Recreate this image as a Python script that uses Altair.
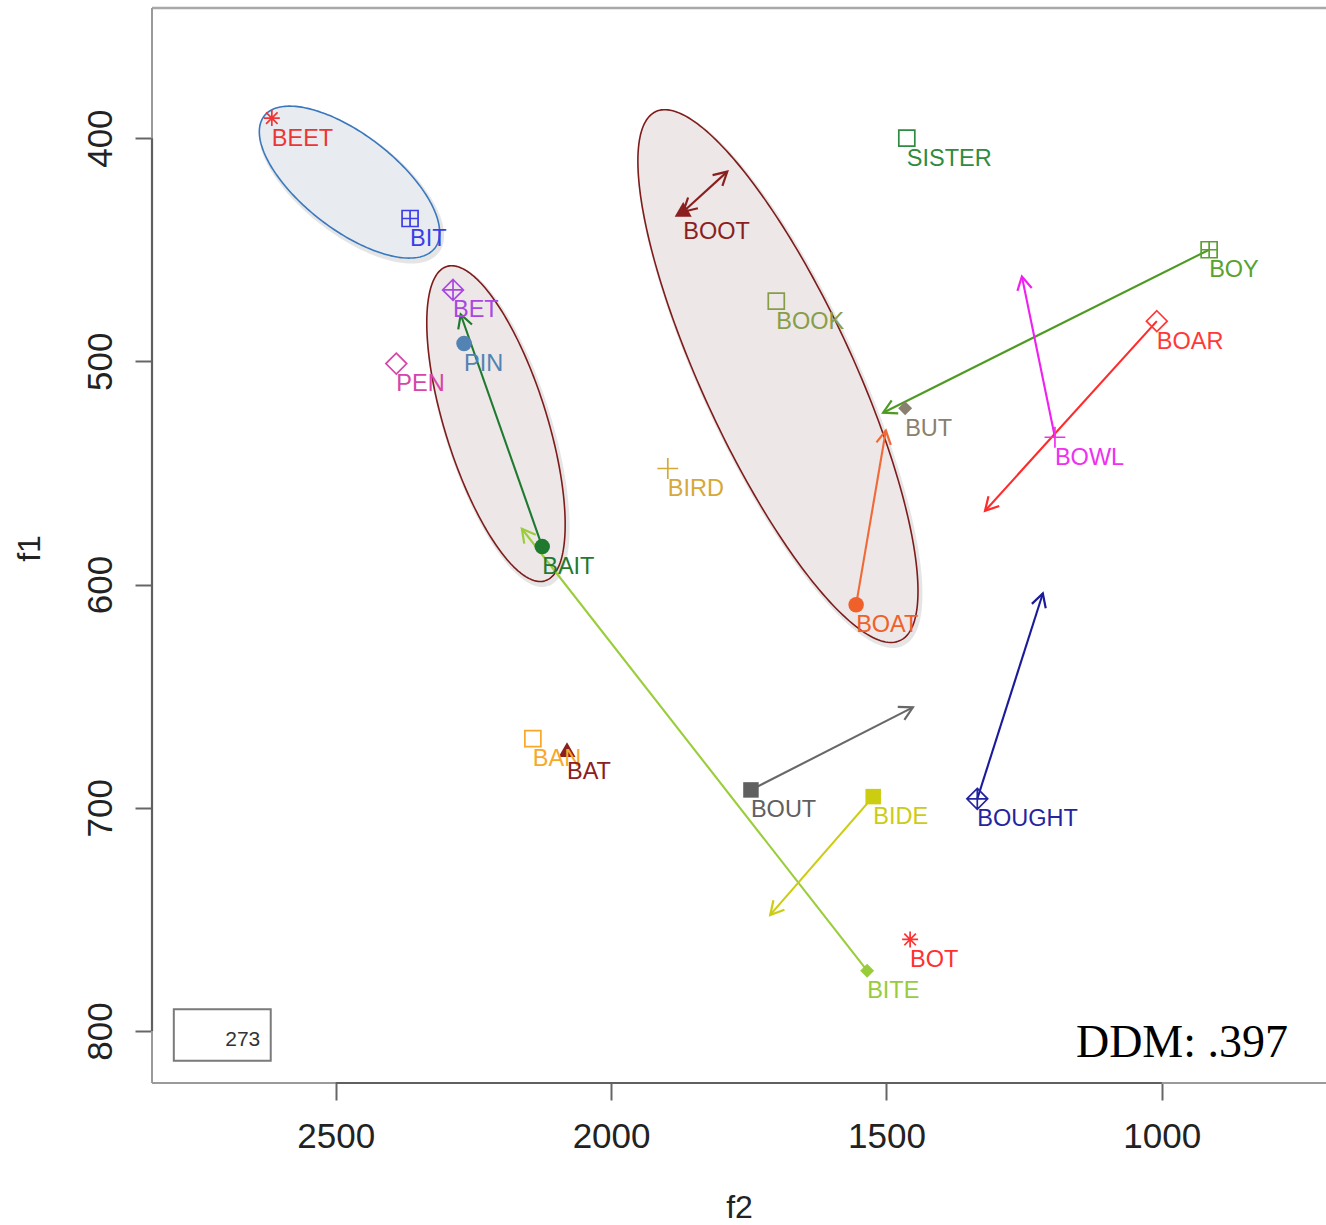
import math
import numpy as np
import pandas as pd
import altair as alt

# ---- vowel means (Hz) ----
words = ["BEET", "BIT", "BET", "PIN", "PEN", "BAIT", "BIRD", "BOAT", "BOOT", "BOOK",
         "SISTER", "BOY", "BOAR", "BUT", "BOWL", "BAN", "BAT", "BOUT", "BIDE",
         "BOUGHT", "BOT", "BITE"]
f2_vals = [2616, 2365, 2287, 2267, 2390, 2125, 1897, 1555, 1869, 1700,
           1463, 914, 1009, 1466, 1194, 2142, 2080, 1746, 1524,
           1335, 1457, 1535]
f1_vals = [391, 436, 468, 492, 501, 583, 548, 609, 433, 473,
           400, 450, 482, 521, 534, 669, 675, 692, 695,
           696, 759, 773]
symbols = ["asterisk", "square_plus", "diamond_plus", "dot", "diamond", "dot", "plus", "dot",
           "triangle", "square", "square", "square_plus", "diamond", "small_diamond", "plus",
           "square", "triangle", "solid_square", "solid_square", "diamond_plus", "asterisk",
           "small_diamond"]
colors = ["#EE3535", "#3C3CE8", "#A848E0", "#5283B3", "#D645A8", "#1F7A30", "#D6A838",
          "#F0602A", "#8B1E1E", "#879E48", "#2E8B40", "#5AA22E", "#FF3838", "#8A8070",
          "#F030F0", "#F8A828", "#8B2020", "#606060", "#CCCC10", "#2424A0", "#FF3030",
          "#98CC3A"]

# ---- glide trajectories: word -> end point ----
arrow_words = ["BOOT", "BOY", "BOWL", "BOAR", "BOAT", "BAIT", "BITE", "BOUT", "BIDE", "BOUGHT"]
arrow_f2_end = [1789, 1506, 1254, 1321, 1501, 2273, 2162, 1452, 1711, 1216]
arrow_f1_end = [415, 523, 462, 567, 531, 479, 575, 655, 748, 604]
arrow_colors = ["#8B1E1E", "#4E9A22", "#F020F0", "#FF2A2A", "#F06A38", "#1F7A30",
                "#9ACD3A", "#686868", "#CCCC10", "#1A1A9A"]

# ---- category ellipses: centre, major and minor semi-axis vectors (Hz) ----
ell_center_f2 = [2475, 2209, 1697]
ell_center_f1 = [419.7, 527.9, 506.6]
ell_major = [(-154.9, 29.6), (-89.3, 70.4), (-221.7, 118.5)]
ell_minor = [(53.0, 16.8), (88.4, 6.8), (124.6, 14.2)]
ell_fill = ["#E8ECF1", "#EDE7E7", "#EDE7E7"]
ell_stroke = ["#3A78BE", "#7E1C1C", "#7E1C1C"]

token_count = "273"
ddm_label = "DDM: .397"

# ---- plot geometry ----
W, H = 1174, 1075
X_DOM = [701.8, 2833.6]
Y_DOM = [341.7, 823.3]
kx = W / (X_DOM[1] - X_DOM[0])
ky = H / (Y_DOM[1] - Y_DOM[0])

xs = alt.Scale(domain=X_DOM, reverse=True, nice=False, zero=False)
ys = alt.Scale(domain=Y_DOM, reverse=True, nice=False, zero=False)

SHAPES = {
    "asterisk": "M-1,0L1,0M0,-1L0,1M-0.72,-0.72L0.72,0.72M-0.72,0.72L0.72,-0.72",
    "square_plus": "M-1,-1L1,-1L1,1L-1,1ZM0,-1L0,1M-1,0L1,0",
    "diamond_plus": "M0,-1.3L1.3,0L0,1.3L-1.3,0ZM0,-1.3L0,1.3M-1.3,0L1.3,0",
    "diamond": "M0,-1.3L1.3,0L0,1.3L-1.3,0Z",
    "plus": "M-1.3,0L1.3,0M0,-1.3L0,1.3",
    "square": "M-1,-1L1,-1L1,1L-1,1Z",
    "dot": "circle",
    "triangle": "M0,-1.25L1.1,0.65L-1.1,0.65Z",
    "solid_square": "M-1,-1L1,-1L1,1L-1,1Z",
    "small_diamond": "M0,-0.9L0.9,0L0,0.9L-0.9,0Z",
}
FILLED = {"dot", "triangle", "solid_square", "small_diamond"}
HEAD = "M-1,-0.55L0,0L-1,0.55"

pts = pd.DataFrame({"word": words, "f2": f2_vals, "f1": f1_vals,
                    "sym": symbols, "color": colors})
pts["filled"] = pts["sym"].isin(FILLED)

lookup = pts.set_index("word")
arrows = pd.DataFrame({
    "word": arrow_words,
    "f2": [lookup.loc[w, "f2"] for w in arrow_words],
    "f1": [lookup.loc[w, "f1"] for w in arrow_words],
    "f2_end": arrow_f2_end,
    "f1_end": arrow_f1_end,
    "color": arrow_colors,
})


def screen_angle(a2, a1, b2, b1):
    dx = -(b2 - a2) * kx
    dy = (b1 - a1) * ky
    return math.degrees(math.atan2(dy, dx)) % 360


arrows["angle"] = [screen_angle(r.f2, r.f1, r.f2_end, r.f1_end) for r in arrows.itertuples()]
heads = arrows[["f2_end", "f1_end", "color", "angle"]].rename(columns={"f2_end": "hx", "f1_end": "hy"})
# BOOT trajectory is double-headed
boot = arrows[arrows.word == "BOOT"].iloc[0]
heads = pd.concat([heads, pd.DataFrame({
    "hx": [boot.f2], "hy": [boot.f1], "color": [boot.color],
    "angle": [screen_angle(boot.f2_end, boot.f1_end, boot.f2, boot.f1)]})], ignore_index=True)

# ---- ellipse outlines ----
t = np.linspace(0, 2 * np.pi, 241)
ell_layers = []
for i in range(3):
    (u2, u1), (v2, v1) = ell_major[i], ell_minor[i]
    df = pd.DataFrame({
        "i": np.arange(len(t)),
        "f2": ell_center_f2[i] + np.cos(t) * u2 + np.sin(t) * v2,
        "f1": ell_center_f1[i] + np.cos(t) * u1 + np.sin(t) * v1,
    })
    shadow = alt.Chart(df).mark_line(stroke="#000000", strokeOpacity=0.10, strokeWidth=5,
                                     xOffset=2, yOffset=3).encode(
        x=alt.X("f2:Q", scale=xs), y=alt.Y("f1:Q", scale=ys), order="i:Q")
    body = alt.Chart(df).mark_line(fill=ell_fill[i], stroke=ell_stroke[i], strokeWidth=1.6).encode(
        x=alt.X("f2:Q", scale=xs), y=alt.Y("f1:Q", scale=ys), order="i:Q")
    ell_layers += [shadow, body]

shape_scale = alt.Scale(domain=list(SHAPES.keys()), range=list(SHAPES.values()))

axis_x = alt.Axis(values=[2500, 2000, 1500, 1000], format="d", grid=False, domain=False,
                  labelFont="Liberation Sans", labelFontSize=35, labelColor="#222222",
                  tickSize=17, tickWidth=2, tickColor="#666666", labelPadding=19,
                  labelFlush=False, title="f2", titleFont="Liberation Sans", titleFontSize=32,
                  titleFontWeight="normal", titleColor="#222222", titleX=587, titleY=134,
                  titleBaseline="alphabetic", titleAlign="center")
axis_y = alt.Axis(values=[400, 500, 600, 700, 800], format="d", grid=False, domain=False,
                  labelFont="Liberation Sans", labelFontSize=35, labelColor="#222222",
                  labelAngle=270, labelAlign="center", labelBaseline="alphabetic",
                  tickSize=17, tickWidth=2, tickColor="#666666", labelPadding=24,
                  labelFlush=False, title="f1", titleFont="Liberation Sans", titleFontSize=32,
                  titleFontWeight="normal", titleColor="#222222", titleAngle=270,
                  titleX=-113, titleY=540, titleBaseline="alphabetic", titleAlign="center")

base_pts = alt.Chart(pts)

axes_layer = base_pts.mark_point(opacity=0).encode(
    x=alt.X("f2:Q", scale=xs, axis=axis_x),
    y=alt.Y("f1:Q", scale=ys, axis=axis_y),
)

# plot frame (light) and axis lines between the outer ticks (dark)
frame_top = alt.Chart(pts.head(1)).mark_rule(color="#A8A8A8", strokeWidth=2.5).encode(
    x=alt.value(0), x2=alt.value(W), y=alt.value(0))
frame_left = alt.Chart(pts.head(1)).mark_rule(color="#9A9A9A", strokeWidth=2).encode(
    x=alt.value(0), y=alt.value(0), y2=alt.value(H))
frame_bottom = alt.Chart(pts.head(1)).mark_rule(color="#9A9A9A", strokeWidth=2).encode(
    x=alt.value(0), x2=alt.value(W), y=alt.value(H))
axis_left = alt.Chart(pts.head(1)).mark_rule(color="#606060", strokeWidth=2.2).encode(
    x=alt.value(0), y=alt.datum(400, scale=ys), y2=alt.datum(800))
axis_bottom = alt.Chart(pts.head(1)).mark_rule(color="#606060", strokeWidth=2.2).encode(
    x=alt.datum(2500, scale=xs), x2=alt.datum(1000), y=alt.value(H))

arrow_lines = alt.Chart(arrows).mark_rule(strokeWidth=2.1).encode(
    x=alt.X("f2:Q", scale=xs), y=alt.Y("f1:Q", scale=ys),
    x2="f2_end:Q", y2="f1_end:Q",
    color=alt.Color("color:N", scale=None),
)
arrow_heads = alt.Chart(heads).mark_point(shape=HEAD, filled=False, size=700, strokeWidth=2.2,
                                          opacity=1).encode(
    x=alt.X("hx:Q", scale=xs), y=alt.Y("hy:Q", scale=ys),
    angle=alt.Angle("angle:Q", scale=None),
    color=alt.Color("color:N", scale=None),
)

open_marks = alt.Chart(pts[~pts.filled]).mark_point(filled=False, size=256, strokeWidth=1.7,
                                                    opacity=1).encode(
    x=alt.X("f2:Q", scale=xs), y=alt.Y("f1:Q", scale=ys),
    shape=alt.Shape("sym:N", scale=shape_scale, legend=None),
    color=alt.Color("color:N", scale=None),
)
solid_marks = alt.Chart(pts[pts.filled]).mark_point(filled=True, size=240, opacity=1).encode(
    x=alt.X("f2:Q", scale=xs), y=alt.Y("f1:Q", scale=ys),
    shape=alt.Shape("sym:N", scale=shape_scale, legend=None),
    color=alt.Color("color:N", scale=None),
)
labels = base_pts.mark_text(align="left", baseline="alphabetic", dy=27.5,
                            font="Liberation Sans", fontSize=23.5).encode(
    x=alt.X("f2:Q", scale=xs), y=alt.Y("f1:Q", scale=ys),
    text="word:N",
    color=alt.Color("color:N", scale=None),
)

# token-count box in the lower-left corner
box_df = pd.DataFrame({"a2": [2794], "b2": [2618], "a1": [790.3], "b1": [813.3],
                       "tx": [2637], "ty": [806.7], "label": [token_count]})
count_box = alt.Chart(box_df).mark_rect(fill="white", stroke="#7A7A7A", strokeWidth=2).encode(
    x=alt.X("a2:Q", scale=xs), x2="b2:Q", y=alt.Y("a1:Q", scale=ys), y2="b1:Q")
count_text = alt.Chart(box_df).mark_text(align="right", baseline="alphabetic",
                                         font="Liberation Sans", fontSize=21,
                                         color="#333333").encode(
    x=alt.X("tx:Q", scale=xs), y=alt.Y("ty:Q", scale=ys), text="label:N")

ddm_df = pd.DataFrame({"x": [770.7], "y": [811.5], "label": [ddm_label]})
ddm_text = alt.Chart(ddm_df).mark_text(align="right", baseline="alphabetic",
                                       font="Liberation Serif", fontSize=46,
                                       color="#000000").encode(
    x=alt.X("x:Q", scale=xs), y=alt.Y("y:Q", scale=ys), text="label:N")

chart = alt.layer(
    axes_layer, *ell_layers, frame_top, frame_left, frame_bottom, axis_left, axis_bottom,
    arrow_lines, arrow_heads, open_marks, solid_marks, labels, count_box, count_text, ddm_text,
).properties(
    width=W, height=H,
    autosize=alt.AutoSizeParams(type="none"),
    padding={"left": 152, "top": 8, "right": 0, "bottom": 142},
    background="white",
).configure_view(stroke=None)

chart.save("out.html", embed_options={"renderer": "svg", "actions": False})
